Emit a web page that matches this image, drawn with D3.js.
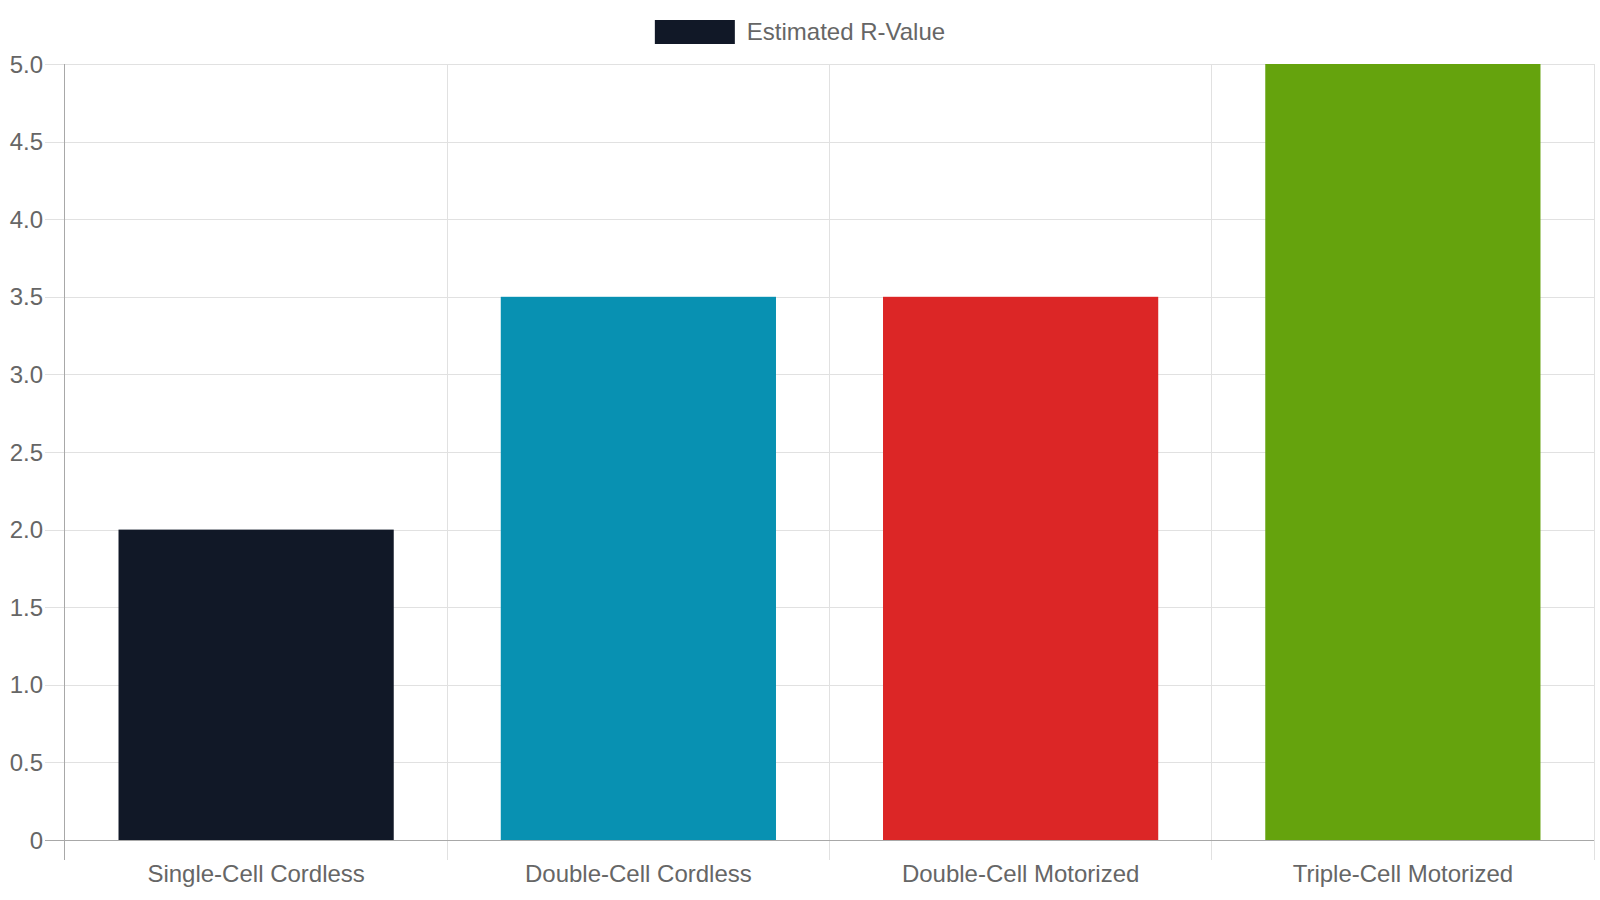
<!DOCTYPE html>
<html>
<head>
<meta charset="utf-8">
<script src="https://cdn.jsdelivr.net/npm/d3@7"></script>
<style>
  html, body { margin: 0; padding: 0; background: #ffffff; }
  svg { display: block; font-family: "Liberation Sans", Arial, Helvetica, sans-serif; }
</style>
</head>
<body>
<svg id="chart" width="1600" height="900"></svg>
<script>
const categories = ["Single-Cell Cordless", "Double-Cell Cordless", "Double-Cell Motorized", "Triple-Cell Motorized"];
const values = [2.0, 3.5, 3.5, 5.0];
const barColors = ["#111827", "#0891b2", "#dc2626", "#65a30d"];
const yTicks = [0, 0.5, 1.0, 1.5, 2.0, 2.5, 3.0, 3.5, 4.0, 4.5, 5.0];
const seriesName = "Estimated R-Value";

const svg = d3.select("#chart");
const mLeft = 65, mRight = 1594, mTop = 64, mBottom = 840;
const tickLen = 20;
const textColor = "#666666";
const gridColor = "#e1e1e1";
const axisColor = "#a8a8a8";

const x = d3.scaleBand().domain(categories).range([mLeft, mRight]).paddingInner(0).paddingOuter(0);
const y = d3.scaleLinear().domain([0, 5]).range([mBottom, mTop]);

// horizontal grid lines
svg.append("g").selectAll("line").data(yTicks.filter(d => d !== 0)).join("line")
  .attr("x1", mLeft - tickLen).attr("x2", mRight)
  .attr("y1", d => Math.round(y(d)) + 0.5).attr("y2", d => Math.round(y(d)) + 0.5)
  .attr("stroke", gridColor).attr("stroke-width", 1);

// vertical grid lines (category boundaries)
const bounds = categories.map(c => x(c)).concat([mRight]);
svg.append("g").selectAll("line").data(bounds.slice(1)).join("line")
  .attr("x1", d => Math.floor(d) + 0.5).attr("x2", d => Math.floor(d) + 0.5)
  .attr("y1", mTop).attr("y2", mBottom + tickLen)
  .attr("stroke", gridColor).attr("stroke-width", 1);

// bars
const barW = x.bandwidth() * 0.72;
svg.append("g").selectAll("rect").data(categories).join("rect")
  .attr("x", (d) => x(d) + (x.bandwidth() - barW) / 2)
  .attr("width", barW)
  .attr("y", (d, i) => y(values[i]))
  .attr("height", (d, i) => y(0) - y(values[i]))
  .attr("fill", (d, i) => barColors[i]);

// axes lines
svg.append("line")
  .attr("x1", mLeft - tickLen).attr("x2", mRight)
  .attr("y1", mBottom + 0.5).attr("y2", mBottom + 0.5)
  .attr("stroke", axisColor).attr("stroke-width", 1);
svg.append("line")
  .attr("x1", mLeft - 0.5).attr("x2", mLeft - 0.5)
  .attr("y1", mTop).attr("y2", mBottom + tickLen)
  .attr("stroke", axisColor).attr("stroke-width", 1);

// y tick labels
svg.append("g").selectAll("text").data(yTicks).join("text")
  .attr("x", mLeft - tickLen - 2)
  .attr("y", d => y(d))
  .attr("dy", "0.36em")
  .attr("text-anchor", "end")
  .attr("font-size", 24)
  .attr("fill", textColor)
  .text(d => d === 0 ? "0" : d3.format(".1f")(d));

// x tick labels
svg.append("g").selectAll("text").data(categories).join("text")
  .attr("x", d => x(d) + x.bandwidth() / 2)
  .attr("y", 882)
  .attr("text-anchor", "middle")
  .attr("font-size", 24)
  .attr("fill", textColor)
  .text(d => d);

// legend
const legend = svg.append("g");
const legText = legend.append("text")
  .attr("y", 40)
  .attr("font-size", 24)
  .attr("fill", textColor)
  .text(seriesName);
const tw = legText.node().getComputedTextLength();
const boxW = 80, gap = 12;
const total = boxW + gap + tw;
const startX = 800 - total / 2;
legend.insert("rect", "text")
  .attr("x", startX).attr("y", 20)
  .attr("width", boxW).attr("height", 24)
  .attr("fill", barColors[0]);
legText.attr("x", startX + boxW + gap);
</script>
</body>
</html>
